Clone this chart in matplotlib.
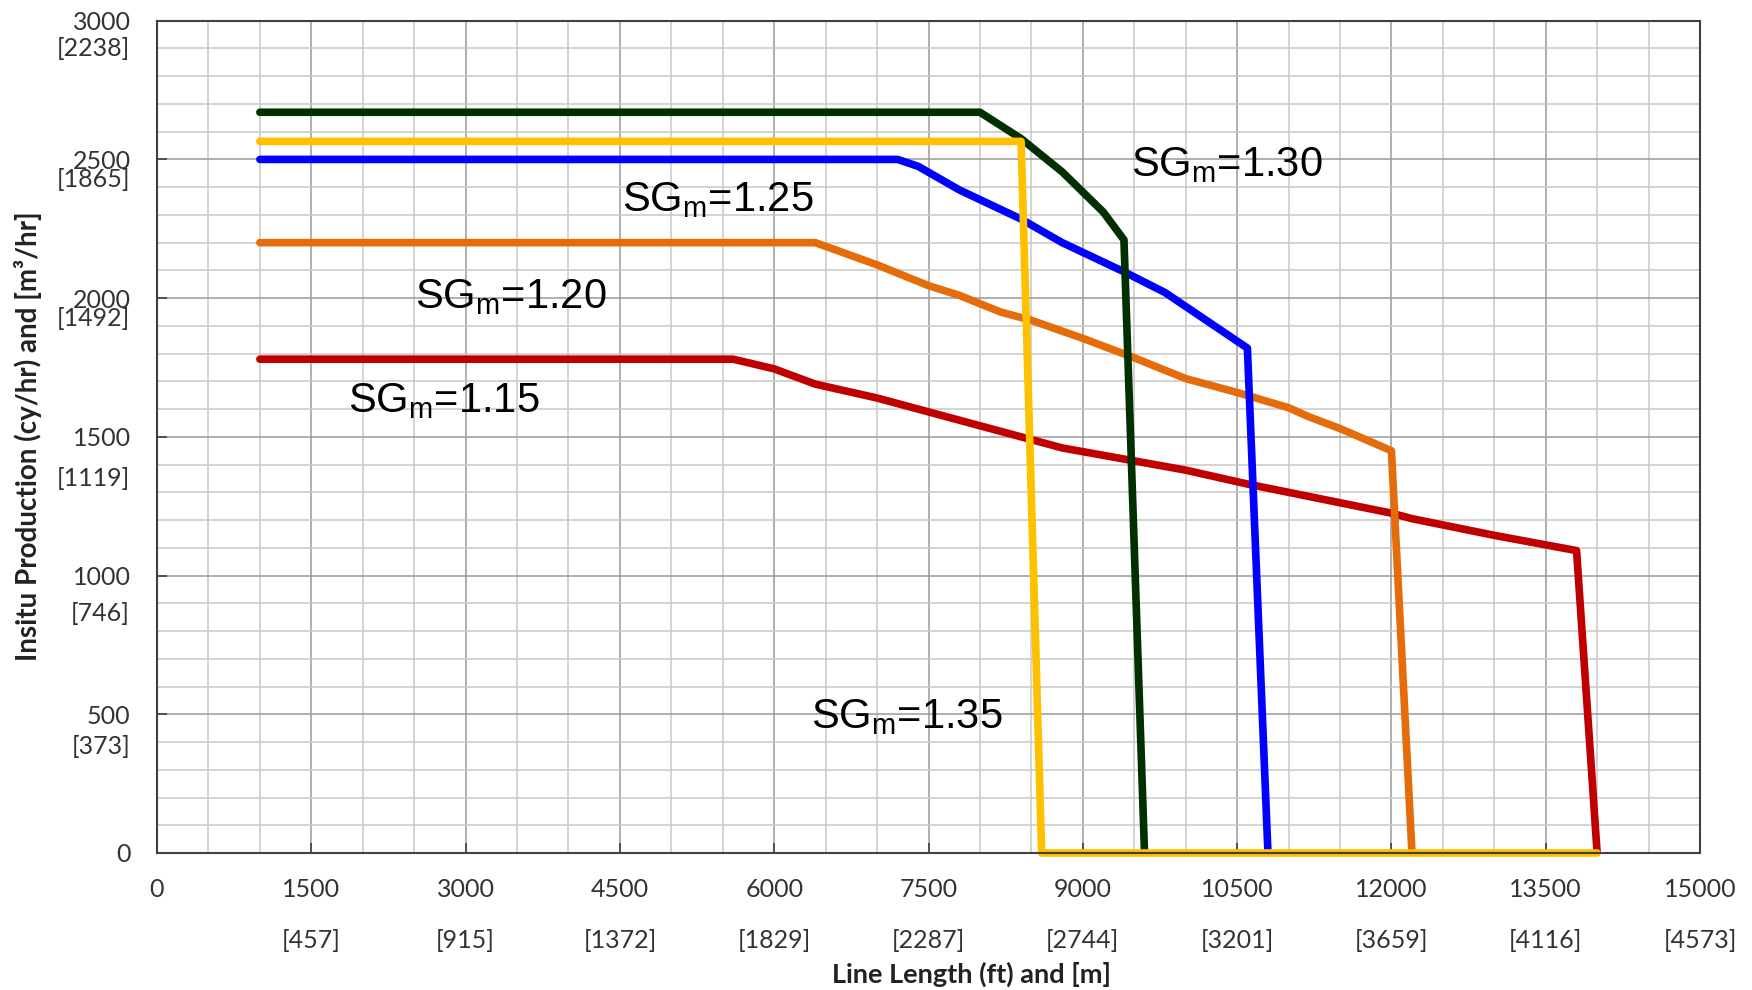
import matplotlib
matplotlib.use("Agg")
import matplotlib.pyplot as plt
from matplotlib.transforms import offset_copy

# Dati: lunghezza linea (ft) e produzione (cy/hr)
x_115 = [1000, 5600, 6000, 6400, 7000, 7400, 8000, 8400, 8800, 9400, 10000, 10600, 11000, 12000, 12200, 13000, 13800, 14000]
y_115 = [1780, 1780, 1745, 1690, 1640, 1600, 1540, 1500, 1460, 1420, 1380, 1330, 1300, 1225, 1205, 1145, 1090, 0]

x_120 = [1000, 6400, 7000, 7500, 7800, 8200, 8500, 9000, 9500, 10000, 10500, 11000, 11200, 11500, 12000, 12200]
y_120 = [2200, 2200, 2120, 2045, 2010, 1950, 1920, 1855, 1785, 1710, 1660, 1605, 1572, 1530, 1450, 0]

x_125 = [1000, 7200, 7400, 7800, 8400, 8800, 9400, 9800, 10200, 10600, 10800]
y_125 = [2500, 2500, 2475, 2390, 2285, 2200, 2095, 2020, 1920, 1820, 0]

x_130 = [1000, 8000, 8400, 8800, 9200, 9400, 9600]
y_130 = [2670, 2670, 2575, 2455, 2310, 2210, 0]

x_135 = [1000, 8400, 8600, 14000]
y_135 = [2565, 2565, 0, 0]

# Etichette degli assi
x_ticks = [0, 1500, 3000, 4500, 6000, 7500, 9000, 10500, 12000, 13500, 15000]
x_metri = ["", "[457]", "[915]", "[1372]", "[1829]", "[2287]", "[2744]", "[3201]", "[3659]", "[4116]", "[4573]"]
y_ticks = [0, 500, 1000, 1500, 2000, 2500, 3000]
y_metri = ["", "[373]", "[746]", "[1119]", "[1492]", "[1865]", "[2238]"]
y_metri_scarto = [0, 32, 38, 42, 20, 20, 28]  # pixel sotto il valore principale

# Etichette delle curve: (testo, x, y)
etichette_sg = [
    ("SG$_m$=1.15", 1854, 1590),
    ("SG$_m$=1.20", 2505, 1963),
    ("SG$_m$=1.25", 4520, 2313),
    ("SG$_m$=1.30", 9472, 2439),
    ("SG$_m$=1.35", 6362, 452),
]

plt.rcParams['font.family'] = ['Lato', 'DejaVu Sans']
plt.rcParams['mathtext.default'] = 'regular'

fig = plt.figure(figsize=(17.52, 9.9), dpi=100)
ax = fig.add_axes([157 / 1752, 1 - 853 / 990, (1700 - 157) / 1752, (853 - 20.7) / 990])

# Griglia: minori ogni 500 ft / 100 cy, maggiori ogni 1500 ft / 500 cy
ax.set_xticks(x_ticks)
ax.set_xticks(range(0, 15001, 500), minor=True)
ax.set_yticks(y_ticks)
ax.set_yticks(range(0, 3001, 100), minor=True)
ax.grid(True, which='minor', color='#c8c8c8', linewidth=1.1)
ax.grid(True, which='major', color='#9a9a9a', linewidth=1.1)
ax.set_axisbelow(True)

ax.set_xlim(0, 15000)
ax.set_ylim(0, 3000)

lw = 5.5
ax.plot(x_115, y_115, color='#C00000', lw=lw, solid_capstyle='round', solid_joinstyle='round')
ax.plot(x_120, y_120, color='#E46C0A', lw=lw, solid_capstyle='round', solid_joinstyle='round')
ax.plot(x_125, y_125, color='#0000FF', lw=lw, solid_capstyle='round', solid_joinstyle='round')
ax.plot(x_130, y_130, color='#003000', lw=lw, solid_capstyle='round', solid_joinstyle='round')
ax.plot(x_135, y_135, color='#FFC000', lw=lw, solid_capstyle='round', solid_joinstyle='round', clip_on=False)

for testo, tx, ty in etichette_sg:
    ax.text(tx, ty, testo, fontsize=30, family=['Liberation Sans', 'DejaVu Sans'],
            ha='left', va='baseline', color='black')

for s in ax.spines.values():
    s.set_color('#404040')
    s.set_linewidth(1.5)

ax.tick_params(axis='both', which='major', direction='in', length=7, width=1.2,
               color='#404040', labelsize=18, labelcolor='#333333')
ax.tick_params(axis='x', which='major', pad=18)
ax.tick_params(axis='y', which='major', pad=19)
ax.tick_params(axis='both', which='minor', length=0)
ax.set_xticklabels([str(v) for v in x_ticks])
ax.set_yticklabels([str(v) for v in y_ticks])

# Seconda riga: valori in metri
for xv, lab in zip(x_ticks, x_metri):
    if lab:
        tr = offset_copy(ax.transData, fig=fig, x=0, y=-87, units='dots')
        ax.text(xv, 0, lab, transform=tr, ha='center', va='center', fontsize=18, color='#333333')

for yv, lab, dy in zip(y_ticks, y_metri, y_metri_scarto):
    if lab:
        tr = offset_copy(ax.get_yaxis_transform(), fig=fig, x=-27, y=-dy, units='dots')
        ax.text(0, yv, lab, transform=tr, ha='right', va='center', fontsize=18, color='#333333')

fig.text(972 / 1752, 1 - 974 / 990, "Line Length (ft) and [m]", fontsize=19.5, weight='bold',
         ha='center', va='center', color='#222222')
fig.text(28 / 1752, 1 - 436 / 990, "Insitu Production (cy/hr) and [m³/hr]", fontsize=20,
         weight='bold', rotation=90, ha='center', va='center', color='#222222')

fig.savefig("out.png", dpi=100)
